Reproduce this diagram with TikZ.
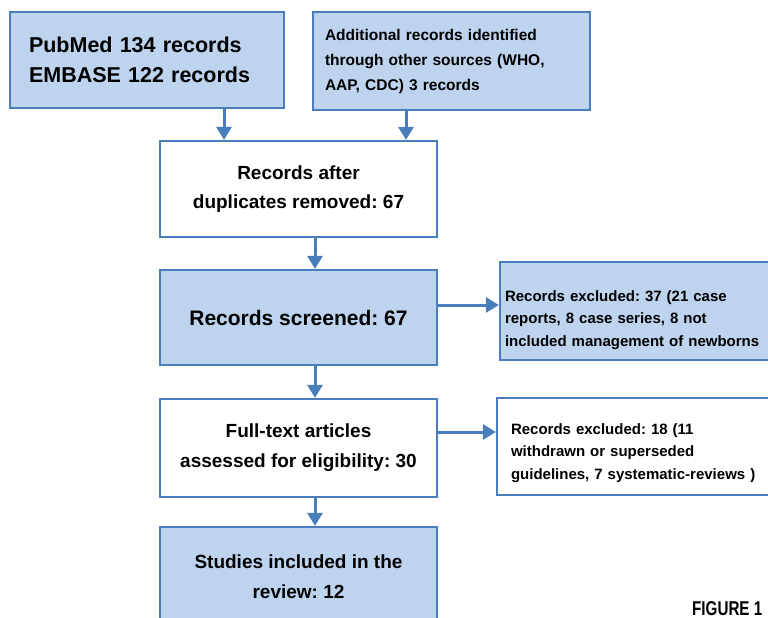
\documentclass[tikz,border=0pt]{standalone}
\usepackage{fontspec}
\setmainfont{Liberation Sans}
\newfontfamily\figfont[FakeStretch=0.76]{Liberation Sans}
\usetikzlibrary{arrows.meta}
\definecolor{boxblue}{RGB}{74,126,187}
\definecolor{boxfill}{RGB}{189,211,238}
\frenchspacing

\begin{document}
\begin{tikzpicture}
[x=1pt,y=-1pt,
box/.style={rectangle,draw=boxblue,line width=2.2pt,minimum width=277pt,inner sep=0pt},
bluebox/.style={box,fill=boxfill},
whitebox/.style={box,fill=white},
flow/.style={draw=boxblue,line width=3pt,-{Triangle[width=15pt,length=13pt]}}]
\useasboundingbox (0,0) rectangle (768,618);
\clip (0,0) rectangle (768,618);

% sources
\node[bluebox,minimum width=274pt,minimum height=96pt,text width=236pt,align=left,
  font=\bfseries\fontsize{21.5}{30}\selectfont] (pubmed) at (147,60)
  {PubMed 134 records\\EMBASE 122 records};
\node[bluebox,minimum height=98pt,text width=253pt,align=left,
  font=\bfseries\fontsize{15.5}{25}\selectfont] (other) at (451.5,61)
  {Additional records identified\\through other sources (WHO,\\AAP, CDC) 3 records};

% main column
\node[whitebox,minimum height=96pt,align=center,font=\bfseries\fontsize{19}{29}\selectfont]
  (dedup) at (298.5,189) {Records after\\duplicates removed: 67};
\node[bluebox,minimum height=95pt,font=\bfseries\fontsize{21}{26}\selectfont]
  (screened) at (298.5,317.5) {Records screened: 67};
\node[whitebox,minimum height=98pt,align=center,font=\bfseries\fontsize{19}{30}\selectfont]
  (fulltext) at (298.5,448) {Full-text articles\\assessed for eligibility: 30};
\node[bluebox,minimum height=100pt,align=center,font=\bfseries\fontsize{19}{30}\selectfont]
  (included) at (298.5,577) {Studies included in the\\review: 12};

% exclusions
\node[bluebox,minimum width=280pt,minimum height=98pt,text width=270pt,align=left,
  font=\bfseries\fontsize{15}{22.5}\selectfont] (excl1) at (640,311)
  {\rule{0pt}{29pt}Records excluded: 37 (21 case\\reports, 8 case series, 8 not\\included management of newborns};
\node[whitebox,minimum width=280pt,minimum height=97pt,text width=252pt,align=left,
  font=\bfseries\fontsize{15}{22.5}\selectfont] (excl2) at (637,446.5)
  {\rule{0pt}{23.5pt}Records excluded: 18 (11\\withdrawn or superseded\\guidelines, 7 systematic-reviews )};

\node[anchor=base west,inner sep=0pt,font=\figfont\bfseries\fontsize{20}{20}\selectfont]
  (figlabel) at (692,615) {FIGURE 1};

\draw[flow] ([xshift=77pt]pubmed.south) -- ([xshift=77pt]pubmed.south |- dedup.north);
\draw[flow] ([xshift=-45.5pt]other.south) -- ([xshift=-45.5pt]other.south |- dedup.north);
\draw[flow] ([xshift=16.5pt]dedup.south) -- ([xshift=16.5pt]screened.north);
\draw[flow] ([xshift=16.5pt]screened.south) -- ([xshift=16.5pt]fulltext.north);
\draw[flow] ([xshift=16.5pt]fulltext.south) -- ([xshift=16.5pt]included.north);
\draw[flow] ([yshift=12.5pt]screened.east) -- ([yshift=12.5pt]screened.east -| excl1.west);
\draw[flow] ([yshift=16pt]fulltext.east) -- ([yshift=16pt]fulltext.east -| excl2.west);
\end{tikzpicture}
\end{document}
